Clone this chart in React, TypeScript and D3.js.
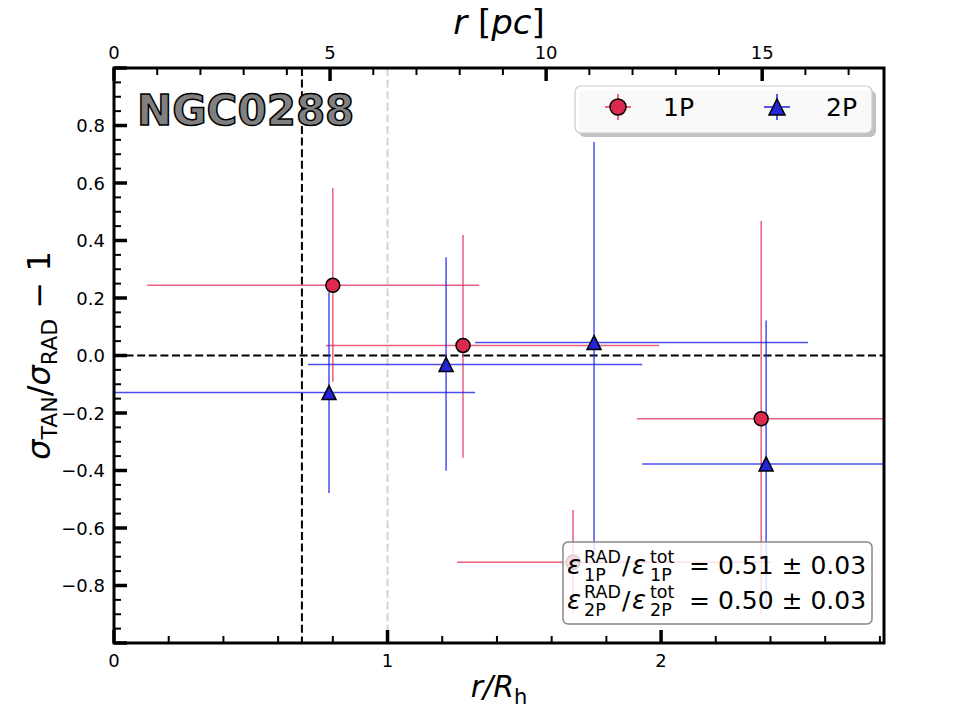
import React from 'react';
import * as d3 from 'd3';

// 1P population (r/Rh, anisotropy) with asymmetric error extents
const x1P = [0.8, 1.276, 2.366, 1.678];
const y1P = [0.244, 0.035, -0.22, -0.719];
const xLo1P = [0.121, 0.775, 1.912, 1.254];
const xHi1P = [1.335, 1.993, 2.9, 2.4];
const yLo1P = [-0.091, -0.356, -0.9, -0.9];
const yHi1P = [0.583, 0.419, 0.468, -0.537];

// 2P population
const x2P = [0.786, 1.214, 1.755, 2.384];
const y2P = [-0.129, -0.031, 0.045, -0.377];
const xLo2P = [-0.05, 0.709, 1.32, 1.931];
const xHi2P = [1.32, 1.931, 2.537, 2.9];
const yLo2P = [-0.478, -0.401, -0.7, -0.88];
const yHi2P = [0.22, 0.342, 0.743, 0.122];

const legendLabels = ['1P', '2P'];
const ratioPops = ['1P', '2P'];
const ratioValues = ['= 0.51 ± 0.03', '= 0.50 ± 0.03'];
const clusterName = 'NGC0288';
const vLineBlack = 0.687;
const vLineGray = 1.0;
const xMax = 2.815;
const pcPerRh = 6.33;

const RED = '#dc2a4e';
const RED_LINE = '#e8365c';
const BLUE = '#2424d8';
const BLUE_LINE = '#2020ee';
const FONT = 'DejaVu Sans';

const left = 114, right = 884, top = 68, bottom = 643;

const App = () => {
  const x = d3.scaleLinear().domain([0, xMax]).range([left, right]);
  const xTop = d3.scaleLinear().domain([0, xMax * pcPerRh]).range([left, right]);
  const y = d3.scaleLinear().domain([-1, 1]).range([bottom, top]);

  const xMajor = x.ticks(3).filter((t) => Number.isInteger(t));
  const xMinor = d3.range(0, xMax, 0.2).filter((t) => Math.abs(t - Math.round(t)) > 1e-6);
  const topMajor = [0, 5, 10, 15];
  const topMinor = d3.range(0, xMax * pcPerRh, 1).filter((t) => t % 5 !== 0);
  const yMajor = d3.range(-1, 1.001, 0.2).map((v) => Math.round(v * 10) / 10);
  const yMinor = d3.range(-1, 1.001, 0.05).filter((v) => Math.abs(v * 5 - Math.round(v * 5)) > 1e-6);
  const fmt = (v: number) => (v < 0 ? '\u2212' : '') + Math.abs(v).toFixed(1);

  const tri = (cx: number, cy: number, s = 7) =>
    `M${cx},${cy - s}L${cx + s},${cy + s}L${cx - s},${cy + s}Z`;

  const errBars = (xs: number[], ys: number[], xl: number[], xh: number[], yl: number[], yh: number[], color: string) =>
    xs.map((xv, i) => (
      <g key={i} stroke={color} strokeWidth={1.5} strokeOpacity={0.8}>
        <line x1={x(xl[i])} x2={x(xh[i])} y1={y(ys[i])} y2={y(ys[i])} />
        <line x1={x(xv)} x2={x(xv)} y1={y(yl[i])} y2={y(yh[i])} />
      </g>
    ));

  return (
    <svg width={960} height={720} style={{ position: 'absolute', left: 0, top: 0, background: 'white' }} fontFamily={FONT}>
      <defs>
        <clipPath id="plot">
          <rect x={left} y={top} width={right - left} height={bottom - top} />
        </clipPath>
      </defs>
      <rect x={0} y={0} width={960} height={720} fill="white" />

      <g clipPath="url(#plot)">
        <line x1={x(vLineGray)} x2={x(vLineGray)} y1={top} y2={bottom} stroke="#d3d3d3" strokeWidth={2} strokeDasharray="8,3.6" />
        <line x1={x(vLineBlack)} x2={x(vLineBlack)} y1={top} y2={bottom} stroke="black" strokeWidth={2} strokeDasharray="8,3.6" />
        <line x1={left} x2={right} y1={y(0)} y2={y(0)} stroke="black" strokeWidth={2} strokeDasharray="8,3.6" />

        {errBars(x1P, y1P, xLo1P, xHi1P, yLo1P, yHi1P, RED_LINE)}
        {errBars(x2P, y2P, xLo2P, xHi2P, yLo2P, yHi2P, BLUE_LINE)}
        {x1P.map((xv, i) => (
          <circle key={i} cx={x(xv)} cy={y(y1P[i])} r={7} fill={RED} stroke="black" strokeWidth={1.5} />
        ))}
        {x2P.map((xv, i) => (
          <path key={i} d={tri(x(xv), y(y2P[i]))} fill={BLUE} stroke="black" strokeWidth={1.5} />
        ))}
      </g>

      {/* ticks */}
      <g stroke="black">
        {xMajor.map((t) => (
          <line key={'bM' + t} x1={x(t)} x2={x(t)} y1={bottom} y2={bottom - 13} strokeWidth={3.5} />
        ))}
        {xMinor.map((t) => (
          <line key={'bm' + t} x1={x(t)} x2={x(t)} y1={bottom} y2={bottom - 7} strokeWidth={2} />
        ))}
        {topMajor.map((t) => (
          <line key={'tM' + t} x1={xTop(t)} x2={xTop(t)} y1={top} y2={top + 13} strokeWidth={3.5} />
        ))}
        {topMinor.map((t) => (
          <line key={'tm' + t} x1={xTop(t)} x2={xTop(t)} y1={top} y2={top + 7} strokeWidth={2} />
        ))}
        {yMajor.map((t) => (
          <line key={'lM' + t} x1={left} x2={left + 13} y1={y(t)} y2={y(t)} strokeWidth={3.5} />
        ))}
        {yMinor.map((t) => (
          <line key={'lm' + t} x1={left} x2={left + 7} y1={y(t)} y2={y(t)} strokeWidth={2} />
        ))}
      </g>
      <rect x={left} y={top} width={right - left} height={bottom - top} fill="none" stroke="black" strokeWidth={3} />

      {/* tick labels */}
      <g fontSize={18} fill="black">
        {xMajor.map((t) => (
          <text key={'bl' + t} x={x(t)} y={bottom + 24} textAnchor="middle">{t}</text>
        ))}
        {topMajor.map((t) => (
          <text key={'tl' + t} x={xTop(t)} y={top - 9} textAnchor="middle">{t}</text>
        ))}
        {yMajor.filter((t) => Math.abs(t) < 0.99).map((t) => (
          <text key={'ll' + t} x={left - 9} y={y(t) + 6.5} textAnchor="end">{fmt(t)}</text>
        ))}
      </g>

      {/* axis titles */}
      <text x={(left + right) / 2} y={697} fontSize={30} textAnchor="middle">
        <tspan fontStyle="italic">r</tspan>
        <tspan fontStyle="italic">/R</tspan>
        <tspan fontSize={21} dy={7}>h</tspan>
      </text>
      <text x={(left + right) / 2} y={34} fontSize={34} textAnchor="middle">
        <tspan fontStyle="italic">r</tspan>
        <tspan> [</tspan>
        <tspan fontStyle="italic">pc</tspan>
        <tspan>]</tspan>
      </text>
      <text transform={`translate(50,${y(0)}) rotate(-90)`} fontSize={32} textAnchor="middle">
        <tspan fontStyle="italic">σ</tspan>
        <tspan fontSize={22} dy={7}>TAN</tspan>
        <tspan dy={-7}>/</tspan>
        <tspan fontStyle="italic">σ</tspan>
        <tspan fontSize={22} dy={7}>RAD</tspan>
        <tspan dy={-7}> − 1</tspan>
      </text>

      {/* cluster name */}
      <text x={137} y={125} fontSize={42} fontWeight="bold" fill="#808080" stroke="black" strokeWidth={1.5}>
        {clusterName}
      </text>

      {/* legend */}
      <g>
        <rect x={579} y={90} width={297} height={47} rx={6} fill="#999" opacity={0.6} />
        <rect x={575} y={86} width={297} height={47} rx={6} fill="white" fillOpacity={0.9} stroke="#cccccc" strokeWidth={1.2} />
        <g stroke={RED_LINE} strokeWidth={1.5}>
          <line x1={605} x2={631} y1={107} y2={107} />
          <line x1={618} x2={618} y1={94} y2={120} />
        </g>
        <circle cx={618} cy={107} r={8} fill={RED} stroke="black" strokeWidth={1.5} />
        <text x={663} y={116} fontSize={25}>{legendLabels[0]}</text>
        <g stroke={BLUE_LINE} strokeWidth={1.5}>
          <line x1={764} x2={790} y1={107} y2={107} />
          <line x1={777} x2={777} y1={94} y2={120} />
        </g>
        <path d={tri(777, 107, 8)} fill={BLUE} stroke="black" strokeWidth={1.5} />
        <text x={826} y={116} fontSize={25}>{legendLabels[1]}</text>
      </g>

      {/* epsilon ratio box: each term set as one text so sup/sub stack */}
      <g>
        <rect x={563} y={542} width={309} height={82} rx={5} fill="white" fillOpacity={0.82} stroke="#888" strokeWidth={1.5} />
        {ratioPops.map((pop, i) => {
          const by = 574 + i * 35;
          return (
            <text key={pop} x={567} y={by} fontSize={25}>
              <tspan fontSize={26} fontStyle="italic">ε</tspan>
              <tspan x={584} dy={-11} fontSize={17.5}>RAD</tspan>
              <tspan x={584} dy={18} fontSize={17.5}>{pop}</tspan>
              <tspan x={622} dy={-7}>/</tspan>
              <tspan x={632} fontSize={26} fontStyle="italic">ε</tspan>
              <tspan x={650} dy={-11} fontSize={17.5}>tot</tspan>
              <tspan x={650} dy={18} fontSize={17.5}>{pop}</tspan>
              <tspan x={689} dy={-7}>{ratioValues[i]}</tspan>
            </text>
          );
        })}
      </g>
    </svg>
  );
};

export default App;
